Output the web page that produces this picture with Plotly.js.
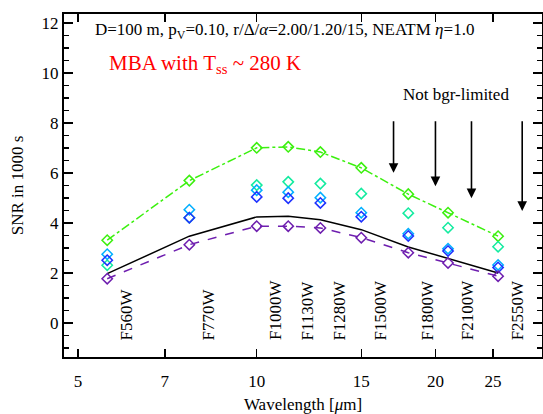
<!DOCTYPE html>
<html>
<head>
<meta charset="utf-8">
<script src="https://cdn.plot.ly/plotly-3.0.1.min.js"></script>
<style>html,body{margin:0;padding:0;background:#fff;}#plot{width:543px;height:414px;}</style>
</head>
<body>
<div id="plot"></div>
<script>
// Filter central wavelengths (micron)
var wavelengths = [5.6, 7.7, 10.0, 11.3, 12.8, 15.0, 18.0, 21.0, 25.5];
var filterNames = ["F560W", "F770W", "F1000W", "F1130W", "F1280W", "F1500W", "F1800W", "F2100W", "F2550W"];

// SNR series
var snrGreen  = [3.31, 5.69, 7.00, 7.04, 6.83, 6.20, 5.15, 4.41, 3.47];
var snrTeal   = [2.31, 4.21, 5.51, 5.64, 5.57, 5.17, 4.39, 3.81, 3.05];
var snrSky    = [2.75, 4.53, 5.31, 5.23, 5.01, 4.41, 3.57, 2.97, 2.32];
var snrBlue   = [2.51, 4.21, 5.04, 4.99, 4.80, 4.25, 3.48, 2.88, 2.22];
var snrBlack  = [1.97, 3.47, 4.24, 4.27, 4.13, 3.73, 3.04, 2.57, 2.00];
var snrPurple = [1.77, 3.13, 3.87, 3.87, 3.80, 3.41, 2.81, 2.40, 1.87];

// "Not bgr-limited" arrows
var arrowWl   = [17.0, 20.0, 23.0, 28.0];
var arrowTip  = [6.00, 5.47, 4.99, 4.48];
var arrowTop  = 8.5;

var xTicks = [5, 7, 10, 15, 20, 25];

var FONT = "'Liberation Serif', 'DejaVu Serif', serif";

function mk(y, color, mode, dash) {
  return {
    x: wavelengths, y: y, type: "scatter", mode: mode,
    marker: {symbol: "diamond-open", size: 8, color: color, line: {width: 1.5, color: color}},
    line: {color: color, width: 1.5, dash: dash || "solid"},
    hoverinfo: "skip", showlegend: false
  };
}

var traces = [
  mk(snrGreen, "rgb(60,240,15)", "lines+markers", "dashdot"),
  mk(snrTeal, "rgb(20,235,160)", "markers"),
  mk(snrSky, "rgb(0,175,255)", "markers"),
  mk(snrBlue, "rgb(30,50,255)", "markers"),
  {x: wavelengths, y: snrBlack, type: "scatter", mode: "lines",
   line: {color: "black", width: 1.5}, hoverinfo: "skip", showlegend: false},
  mk(snrPurple, "rgb(110,30,175)", "lines+markers", "dash")
];

var annotations = [];
filterNames.forEach(function (n, i) {
  annotations.push({
    text: n, x: Math.log10(wavelengths[i]), y: -0.77, xref: "x", yref: "y",
    xshift: 19, textangle: -90, showarrow: false,
    xanchor: "center", yanchor: "bottom",
    font: {family: FONT, size: 17, color: "black"}
  });
});
arrowWl.forEach(function (w, i) {
  annotations.push({
    text: " ", x: Math.log10(w), y: arrowTip[i], ax: Math.log10(w), ay: arrowTop,
    xref: "x", yref: "y", axref: "x", ayref: "y",
    showarrow: true, arrowhead: 2, arrowsize: 1.2, arrowwidth: 1.6, arrowcolor: "black", standoff: 0
  });
});
annotations.push({
  text: "D=100 m, p<sub>V</sub>=0.10, r/\u0394/<i>\u03b1</i>=2.00/1.20/15, NEATM <i>\u03b7</i>=1.0",
  xref: "paper", yref: "paper", x: 0.0607, y: 0.950, xanchor: "left", yanchor: "middle", align: "left",
  showarrow: false, font: {family: FONT, size: 17, color: "black"}
});
annotations.push({
  text: "MBA with T<sub>ss</sub> ~ 280 K",
  xref: "paper", yref: "paper", x: 0.09, y: 0.854, xanchor: "left", yanchor: "middle", align: "left",
  showarrow: false, font: {family: FONT, size: 21, color: "red"}
});
annotations.push({
  text: "Not bgr-limited",
  xref: "paper", yref: "paper", x: 0.82, y: 0.764, xanchor: "center", yanchor: "middle",
  showarrow: false, font: {family: FONT, size: 17, color: "black"}
});

var layout = {
  width: 543, height: 414,
  margin: {l: 64, r: 1, t: 14, b: 57, pad: 0},
  paper_bgcolor: "white", plot_bgcolor: "white",
  font: {family: FONT, size: 17, color: "black"},
  xaxis: {
    type: "log", range: [0.6754, 1.4805],
    tickvals: xTicks, ticktext: xTicks.map(String),
    ticks: "inside", ticklen: 8, tickwidth: 1.5, tickcolor: "black",
    showline: true, linewidth: 2, linecolor: "black", mirror: "ticks",
    showgrid: false, zeroline: false,
    ticklabelstandoff: 8,
    tickfont: {family: FONT, size: 17},
    title: {text: "Wavelength [<i>\u03bc</i>m]", font: {family: FONT, size: 17}, standoff: 9}
  },
  yaxis: {
    range: [-1.36, 12.35], dtick: 2, tick0: 0,
    ticks: "inside", ticklen: 9, tickwidth: 1.5, tickcolor: "black",
    minor: {dtick: 0.5, ticks: "inside", ticklen: 5, tickwidth: 1.5, tickcolor: "black"},
    showline: true, linewidth: 2, linecolor: "black", mirror: "ticks",
    showgrid: false, zeroline: false,
    tickfont: {family: FONT, size: 17},
    title: {text: "SNR in 1000 s", font: {family: FONT, size: 17}, standoff: 14}
  },
  annotations: annotations,
  showlegend: false
};

Plotly.newPlot("plot", traces, layout, {displayModeBar: false, staticPlot: true});
</script>
</body>
</html>
